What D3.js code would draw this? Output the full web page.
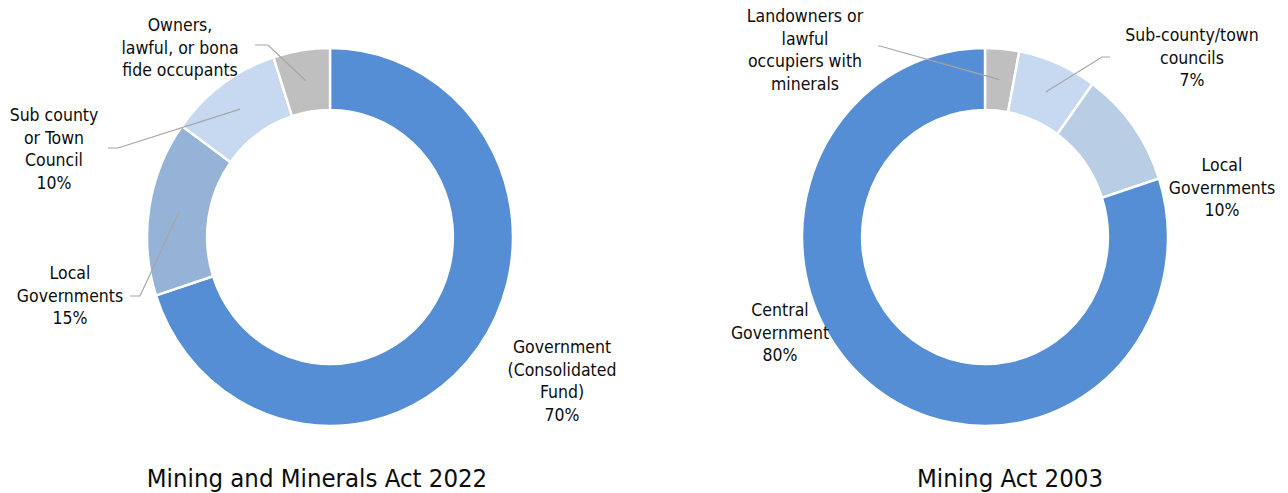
<!DOCTYPE html>
<html>
<head>
<meta charset="utf-8">
<script src="https://cdn.jsdelivr.net/npm/d3@7"></script>
<style>
  html, body { margin: 0; padding: 0; background: #ffffff; }
  svg { display: block; }
  text { font-family: "DejaVu Sans Condensed", "DejaVu Sans", sans-serif; font-stretch: condensed; fill: #0d0d0d; }
</style>
</head>
<body>
<svg id="chart" width="1288" height="493"></svg>
<script>
// Revenue sharing of mineral royalties under two Acts
const titles2022 = "Mining and Minerals Act 2022";
const titles2003 = "Mining Act 2003";

const categories2022 = [
  "Government (Consolidated Fund)",
  "Local Governments",
  "Sub county or Town Council",
  "Owners, lawful, or bona fide occupants"
];
const values2022 = [70, 15, 10, 5];
const labelLines2022 = [
  ["Government", "(Consolidated", "Fund)", "70%"],
  ["Local", "Governments", "15%"],
  ["Sub county", "or Town", "Council", "10%"],
  ["Owners,", "lawful, or bona", "fide occupants"]
];
const colors2022 = ["#558ed5", "#95b3d7", "#c6d9f1", "#bfbfbf"];

const categories2003 = [
  "Landowners or lawful occupiers with minerals",
  "Sub-county/town councils",
  "Local Governments",
  "Central Government"
];
const values2003 = [3, 7, 10, 80];
const labelLines2003 = [
  ["Landowners or", "lawful", "occupiers with", "minerals"],
  ["Sub-county/town", "councils", "7%"],
  ["Local", "Governments", "10%"],
  ["Central", "Government", "80%"]
];
const colors2003 = ["#bfbfbf", "#c6d9f1", "#b9cde5", "#558ed5"];

const svg = d3.select("#chart");

const outerR = 189, innerR = 127, squeezeX = 0.968;
const lineH = 22.5;

// layout of each panel: centre, label anchors, optional leader start points
const panels = [
  {
    title: titles2022, titleX: 317,
    cx: 330, cy: 237,
    cats: categories2022, vals: values2022, lines: labelLines2022, colors: colors2022,
    labelPos: [[562, 353], [70, 279], [54, 121], [180, 31]],
    leaders: [null, [[130, 296], [140, 296]], [[108, 148], [118, 148]], [[255, 45], [268, 45]]]
  },
  {
    title: titles2003, titleX: 1010,
    cx: 985, cy: 237,
    cats: categories2003, vals: values2003, lines: labelLines2003, colors: colors2003,
    labelPos: [[805, 22], [1192, 41], [1222, 171], [780, 316]],
    leaders: [[[878, 46], [880, 46]], [[1110, 57], [1102, 57]], null, null]
  }
];

const pie = d3.pie().sort(null).value(d => d.v);
const arc = d3.arc().innerRadius(innerR).outerRadius(outerR);
const midArc = d3.arc().innerRadius((innerR + outerR) / 2).outerRadius((innerR + outerR) / 2);

panels.forEach(p => {
  const data = p.cats.map((c, i) => ({ c, v: p.vals[i], i }));
  const arcs = pie(data);

  const g = svg.append("g")
    .attr("transform", `translate(${p.cx},${p.cy}) scale(${squeezeX},1)`);

  g.selectAll("path")
    .data(arcs)
    .join("path")
    .attr("d", arc)
    .attr("fill", d => p.colors[d.data.i])
    .attr("stroke", "#ffffff")
    .attr("stroke-width", 2.5)
    .attr("stroke-linejoin", "miter");

  // leader lines run from the label to the middle of the slice
  arcs.forEach(a => {
    const lead = p.leaders[a.data.i];
    if (!lead) return;
    const [mx, my] = midArc.centroid(a);
    const end = [p.cx + mx * squeezeX, p.cy + my];
    svg.append("path")
      .attr("d", d3.line()([...lead, end]))
      .attr("fill", "none")
      .attr("stroke", "#a6a6a6")
      .attr("stroke-width", 1.2);
  });

  // multi-line labels
  arcs.forEach(a => {
    const [lx, ly] = p.labelPos[a.data.i];
    const t = svg.append("text")
      .attr("text-anchor", "middle")
      .attr("font-size", 17.5);
    p.lines[a.data.i].forEach((ln, k) => {
      t.append("tspan").attr("x", lx).attr("y", ly + k * lineH).text(ln);
    });
  });

  svg.append("text")
    .attr("x", p.titleX)
    .attr("y", 487)
    .attr("text-anchor", "middle")
    .attr("font-size", 25.5)
    .text(p.title);
});
</script>
</body>
</html>
